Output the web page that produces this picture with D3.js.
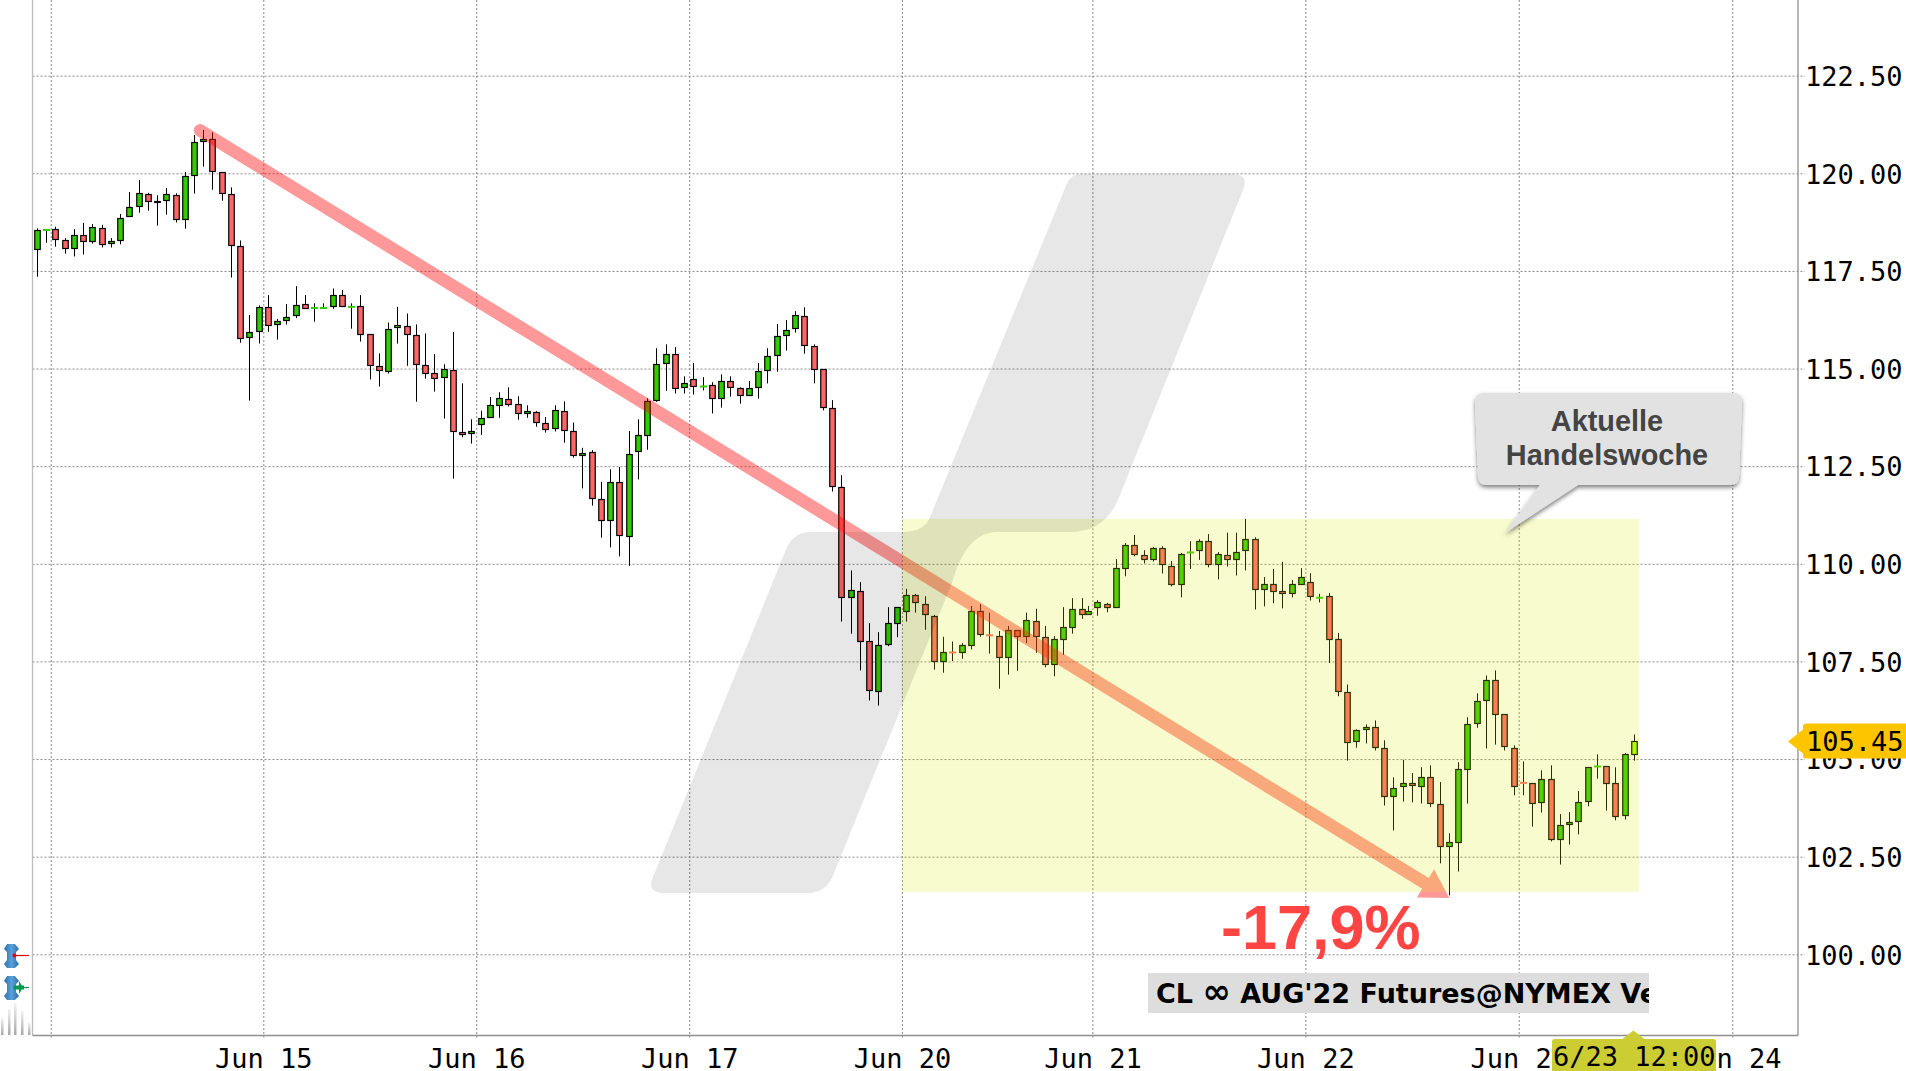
<!DOCTYPE html>
<html>
<head>
<meta charset="utf-8">
<style>
html,body{margin:0;padding:0;background:#fff;overflow:hidden}
svg{display:block}
.tl text{font-family:"DejaVu Sans Mono",monospace;font-size:27px;fill:#000}
</style>
<script src="https://cdn.jsdelivr.net/npm/d3@7"></script>
</head>
<body>
<svg id="c" width="1906" height="1071"></svg>
<script>
const open = [118.05,118.54,118.57,118.28,118.08,118.41,118.26,118.59,118.21,118.28,118.90,119.15,119.46,119.28,119.31,119.44,118.82,119.95,120.82,120.87,120.03,119.46,118.13,115.80,115.95,116.57,116.13,116.24,116.36,116.64,116.54,116.54,116.59,116.87,116.57,116.59,115.88,115.06,114.93,116.06,116.08,115.85,115.08,114.88,114.78,114.96,113.37,113.34,113.57,113.75,114.06,114.21,114.09,113.86,113.88,113.60,113.47,113.91,113.39,112.78,112.86,111.65,111.12,112.09,110.71,112.88,113.29,114.19,115.14,115.37,114.52,114.73,114.53,114.57,114.24,114.68,114.50,114.32,114.52,114.96,115.34,115.85,116.03,116.34,115.57,114.98,113.98,111.96,109.14,109.30,108.00,106.74,107.94,108.46,108.77,109.20,108.97,108.64,107.51,107.74,107.74,107.90,108.79,108.18,108.15,107.61,108.30,108.13,108.53,108.10,107.43,108.05,108.38,108.84,108.69,108.87,108.97,108.87,109.87,110.48,110.22,110.10,110.40,109.94,109.48,110.28,110.35,110.58,109.97,110.22,110.10,110.33,110.61,109.33,109.46,109.28,109.25,109.48,109.53,109.12,109.17,108.05,106.71,105.45,105.76,105.81,105.28,104.05,104.30,104.38,104.30,104.53,103.84,102.77,102.87,104.74,105.92,106.50,107.01,106.14,105.28,104.40,104.38,103.90,104.48,102.95,103.33,103.41,103.92,104.80,104.82,104.38,103.56,105.12];
const high = [118.59,118.57,118.63,118.34,118.57,118.73,118.70,118.68,118.34,118.96,119.52,119.83,119.50,119.44,119.62,119.49,120.03,120.98,121.11,121.05,120.03,119.64,118.28,116.37,116.62,116.88,116.27,116.65,117.11,116.88,116.67,116.67,117.05,117.01,116.67,116.88,115.88,115.39,116.18,116.58,116.41,116.13,115.90,115.37,115.11,115.94,114.62,113.70,113.92,114.27,114.39,114.52,114.29,114.06,113.91,113.76,114.06,114.16,113.62,112.97,112.91,112.10,112.42,112.48,113.40,113.70,114.24,115.52,115.62,115.55,114.80,115.14,114.78,114.65,114.85,114.80,114.52,114.68,115.14,115.52,116.14,116.24,116.47,116.57,115.62,114.98,114.19,112.27,109.83,109.53,108.48,108.25,108.89,108.89,109.36,109.23,109.17,108.69,108.13,108.01,107.97,108.92,108.97,108.75,108.28,108.41,108.30,108.75,108.85,108.41,108.15,108.89,109.12,109.12,108.92,109.07,109.00,110.12,110.53,110.74,110.35,110.43,110.45,110.07,110.28,110.58,110.63,110.76,110.30,110.80,110.80,111.15,110.68,109.66,109.87,110.05,109.58,109.89,109.76,109.23,109.25,108.23,106.91,105.76,105.89,105.99,105.48,104.53,104.98,104.64,104.79,104.84,104.41,103.10,104.92,106.07,106.68,107.14,107.27,106.14,105.35,104.94,104.38,104.71,104.84,103.59,103.64,104.18,104.79,105.12,104.82,104.79,105.15,105.63];
const low = [117.35,118.22,118.12,117.94,117.87,117.92,118.20,118.10,118.10,118.18,118.90,118.99,119.04,118.66,118.94,118.74,118.58,119.48,120.17,119.58,119.30,117.33,115.66,114.18,115.64,115.94,115.74,116.13,116.29,116.54,116.20,116.54,116.53,116.59,116.02,115.69,114.72,114.54,114.87,115.64,115.07,114.15,114.74,114.41,113.72,112.18,113.24,113.08,113.30,113.75,113.74,114.03,113.69,113.74,113.51,113.36,113.39,113.10,112.72,111.93,111.49,110.67,110.42,110.19,109.95,112.16,112.92,114.15,114.43,114.36,114.36,114.33,114.44,113.85,114.00,114.28,114.10,114.32,114.23,114.62,114.92,115.46,115.92,115.38,114.62,113.93,111.85,108.52,108.21,107.27,106.50,106.37,107.89,108.12,108.52,108.75,108.31,107.29,107.21,107.51,107.57,107.81,108.13,107.70,106.80,107.16,107.26,107.97,107.72,107.35,107.12,107.67,108.21,108.59,108.69,108.67,108.76,108.87,109.68,110.19,110.01,110.06,109.75,109.42,109.14,109.87,110.10,109.91,109.60,109.93,109.70,109.83,108.83,108.91,108.99,108.86,109.14,109.48,109.06,109.01,107.46,106.61,104.96,105.29,105.40,105.22,103.81,103.17,103.91,103.89,103.86,103.77,102.33,101.51,102.12,103.86,105.80,105.27,105.37,105.22,104.07,104.07,103.27,103.63,102.89,102.30,102.81,103.07,103.79,104.50,103.68,103.43,103.45,104.96];
const close = [118.54,118.55,118.31,118.08,118.41,118.26,118.62,118.18,118.26,118.85,119.13,119.49,119.28,119.26,119.46,118.82,119.92,120.79,120.87,120.05,119.49,118.16,115.77,115.93,116.57,116.11,116.21,116.31,116.62,116.54,116.55,116.55,116.87,116.59,116.58,115.88,115.08,114.95,116.00,116.11,115.88,115.11,114.88,114.75,114.98,113.39,113.32,113.39,113.73,114.06,114.24,114.09,113.86,113.91,113.63,113.45,113.93,113.42,112.78,112.83,111.68,111.12,112.09,110.73,112.81,113.29,114.16,115.11,115.37,114.50,114.62,114.55,114.54,114.24,114.68,114.52,114.32,114.50,114.93,115.32,115.83,115.98,116.37,115.60,114.98,114.01,111.99,109.14,109.32,108.02,106.76,107.91,108.48,108.87,109.20,109.00,108.69,107.51,107.72,107.73,107.90,108.79,108.18,108.17,107.61,108.30,108.15,108.56,108.13,107.41,108.05,108.36,108.84,108.69,108.77,109.00,108.87,109.87,110.48,110.25,110.12,110.40,109.97,109.48,110.25,110.29,110.58,109.97,110.25,110.10,110.30,110.61,109.35,109.48,109.30,109.23,109.48,109.64,109.15,109.13,108.07,106.74,105.43,105.74,105.81,105.30,104.05,104.25,104.38,104.33,104.53,103.87,102.77,102.87,104.74,105.89,106.48,107.01,106.14,105.33,104.30,104.39,103.87,104.48,102.95,103.31,103.38,103.90,104.79,104.81,104.38,103.54,105.12,105.45];

const priceTicks = [122.5,120,117.5,115,112.5,110,107.5,105,102.5,100];
const dayTicks = [1.45,24.44,47.47,70.5,93.5,114.1,137.13,160.2,183.3];
const dayLabels = ["","Jun 15","Jun 16","Jun 17","Jun 20","Jun 21","Jun 22","Jun 23","Jun 24"];
const lastPrice = 105.45;
const cursorLabel = "6/23 12:00";
const cursorSlot = 172.6;
const trendStart = {slot:17.6, price:121.1};
const trendEnd = {slot:152.7, price:101.44};
const weekBox = {slot0:93.5, slot1:173.25, top:111.15, bottom:101.6};
const changeLabel = "-17,9%";
const noteLines = ["Aktuelle","Handelswoche"];

const W = 1906, H = 1071, L = 32.5, R = 1798, B = 1035.5;
const svg = d3.select("#c");

const x = d3.scaleLinear().domain([0,172.7]).range([37.3,1634.3]);
const y = d3.scaleLinear().domain([120,100]).range([173.3,954.3]);
const slot = i => i <= 113 ? i : i - 0.3;
const px = i => Math.round(x(slot(i)) - 0.5) + 0.5;
const crisp = v => Math.round(v - 0.5) + 0.5;

const defs = svg.append("defs");
defs.append("clipPath").attr("id","titleClip").append("rect").attr("x",1148).attr("y",973).attr("width",501).attr("height",40);
const sh = defs.append("filter").attr("id","shadow").attr("x","-10%").attr("y","-10%").attr("width","120%").attr("height","130%");
sh.append("feDropShadow").attr("dx",0).attr("dy",2.5).attr("stdDeviation",2.2).attr("flood-color","#000").attr("flood-opacity",0.5);

/* grid + axes */
const gy = svg.append("g").attr("class","tl").attr("transform",`translate(${R},0)`)
  .call(d3.axisRight(y).tickValues(priceTicks).tickFormat(d3.format(".2f")).tickSizeInner(7).tickSizeOuter(0).tickPadding(2));
gy.select(".domain").remove();
gy.selectAll("line").attr("x1",-(R-L)).attr("x2",7).attr("stroke","#8a8a8a").attr("stroke-width",1).attr("stroke-dasharray","2 2");
gy.selectAll("text").attr("x",7).attr("dy","0.36em").attr("text-anchor","start");

const gx = svg.append("g").attr("class","tl").attr("transform",`translate(0,${B})`)
  .call(d3.axisBottom(x).tickValues(dayTicks).tickFormat((d,i)=>dayLabels[i]).tickSizeInner(2).tickSizeOuter(0).tickPadding(10));
gx.select(".domain").remove();
gx.selectAll("line").attr("y1",-B).attr("y2",2).attr("stroke","#8a8a8a").attr("stroke-width",1).attr("stroke-dasharray","2 2");
gx.selectAll("text").attr("y",13).attr("dy","0.71em");

svg.append("line").attr("x1",L).attr("x2",L).attr("y1",0).attr("y2",B).attr("stroke","#bdbdbd").attr("stroke-width",1.3);
svg.append("line").attr("x1",R).attr("x2",R).attr("y1",0).attr("y2",B).attr("stroke","#8f8f8f").attr("stroke-width",1.3);
svg.append("line").attr("x1",L).attr("x2",R).attr("y1",B).attr("y2",B).attr("stroke","#8f8f8f").attr("stroke-width",1.3);

/* candles */
const UP="#33cc00", DN="#ff6666", LAST="#aaff00";
const idx = d3.range(open.length);
const gc = svg.append("g");
gc.selectAll("line").data(idx).join("line")
  .attr("x1",px).attr("x2",px).attr("y1",i=>y(high[i])).attr("y2",i=>y(low[i]))
  .attr("stroke","#000").attr("stroke-width",1);
const isDoji = i => Math.abs(open[i]-close[i]) < 0.015;
const col = i => i===open.length-1 ? LAST : (close[i]>=open[i] ? UP : DN);
gc.selectAll("rect.b").data(idx.filter(i=>!isDoji(i))).join("rect").attr("class","b")
  .attr("x",i=>px(i)-2.75).attr("width",5.5)
  .attr("y",i=>crisp(y(Math.max(open[i],close[i]))))
  .attr("height",i=>Math.max(1,crisp(y(Math.min(open[i],close[i])))-crisp(y(Math.max(open[i],close[i])))))
  .attr("fill",col).attr("stroke","#000").attr("stroke-width",1.2);
gc.selectAll("rect.d").data(idx.filter(isDoji)).join("rect").attr("class","d")
  .attr("x",i=>px(i)-3.5).attr("width",7)
  .attr("y",i=>y(close[i])-1).attr("height",2)
  .attr("fill",col);

/* trend arrow: one group at constant opacity */
(function(){
  const a=[x(trendStart.slot),y(trendStart.price)], b=[x(trendEnd.slot),y(trendEnd.price)];
  const ang=Math.atan2(b[1]-a[1],b[0]-a[0]);
  const ux=Math.cos(ang), uy=Math.sin(ang);
  const g=svg.append("g").attr("opacity",0.4);
  const neck=[b[0]-ux*28,b[1]-uy*28];
  g.append("path").attr("d",d3.line()([a,neck])).attr("stroke","#f00").attr("stroke-width",12.5).attr("stroke-linecap","round").attr("fill","none");
  const hw=16.5;
  g.append("path").attr("fill","#f00")
    .attr("d",d3.line()([b,[neck[0]-uy*hw,neck[1]+ux*hw],[neck[0]+uy*hw,neck[1]-ux*hw]])+"Z");
})();

/* current week box */
svg.append("rect").attr("x",x(weekBox.slot0)).attr("y",y(weekBox.top))
  .attr("width",x(weekBox.slot1)-x(weekBox.slot0)).attr("height",y(weekBox.bottom)-y(weekBox.top))
  .attr("fill","#dceb05").attr("fill-opacity",0.2);

/* watermark */
svg.append("path").attr("fill","#000").attr("fill-opacity",0.095)
  .attr("d","M1080,174 L1232,174 Q1250,174 1243,190 L1118,500 Q1104,532 1070,532 L997,532 Q966,532 952,583 L832,878 Q824,893 808,893 L665,893 Q646,893 653,877 L787,547 Q794,532 812,532 L903,532 Q924,532 930,517 L1065,188 Q1070,174 1080,174 Z");

/* note bubble */
svg.append("path").attr("fill","#e2e2e2").attr("filter","url(#shadow)")
  .attr("d","M1484,393 L1733,393 Q1742,393 1742,402 L1739,476 Q1739,485 1730,485 L1578,485 L1505,533 L1540,485 L1487,485 Q1478,485 1478,476 L1475,402 Q1475,393 1484,393 Z");
svg.append("g").selectAll("text").data(noteLines).join("text")
  .attr("x",1607).attr("y",(d,i)=>431+i*34).attr("text-anchor","middle")
  .attr("font-family","'Liberation Sans',Arial,sans-serif").attr("font-weight","bold").attr("font-size",28.9).attr("fill","#444")
  .text(d=>d);

/* change label */
svg.append("text").attr("x",1221).attr("y",949).attr("font-family","'Liberation Sans',Arial,sans-serif")
  .attr("font-weight","bold").attr("font-size",63).attr("fill","#ff4444").text(changeLabel);

/* title box */
svg.append("rect").attr("x",1148).attr("y",973).attr("width",501).attr("height",40).attr("fill","#dddddd");
const tt = svg.append("text").attr("x",1156).attr("y",1003).attr("clip-path","url(#titleClip)")
  .attr("font-family","'DejaVu Sans',sans-serif").attr("font-weight","bold").attr("font-size",27).attr("fill","#000");
tt.append("tspan").text("CL ");
tt.append("tspan").attr("font-size",34).text("\u221E");
tt.append("tspan").text(" AUG'22 Futures@NYMEX Ve");

/* last price tag */
const ly=y(lastPrice);
svg.append("path").attr("fill","#fdc500")
  .attr("d",`M1788,${ly} L1803,${ly-12} L1803,${ly-15} Q1803,${ly-18} 1806,${ly-18} L1906,${ly-18} L1906,${ly+17} L1806,${ly+17} Q1803,${ly+17} 1803,${ly+14} L1803,${ly+12} Z`);
svg.append("text").attr("x",1806).attr("y",ly+10).attr("font-family","'DejaVu Sans Mono',monospace").attr("font-size",27).attr("fill","#000").text(d3.format(".2f")(lastPrice));

/* time cursor tag */
const cx=x(cursorSlot);
svg.append("path").attr("fill","#cccc33")
  .attr("d",`M${cx},1030.5 L${cx+11},1039 L1713,1039 Q1716,1039 1716,1042 L1716,1071 L1552,1071 L1552,1042 Q1552,1039 1555,1039 L${cx-11},1039 Z`);
svg.append("text").attr("x",1553).attr("y",1066).attr("font-family","'DejaVu Sans Mono',monospace").attr("font-size",27).attr("fill","#000").text(cursorLabel);

/* small order markers on the left */
const markerY=[956,988];
const mk=svg.append("g");
markerY.forEach((my,i)=>{
  const grad=defs.append("linearGradient").attr("id","mg"+i);
  grad.append("stop").attr("offset","0").attr("stop-color","#2a6fae");
  grad.append("stop").attr("offset","0.5").attr("stop-color","#5aa0d8");
  grad.append("stop").attr("offset","1").attr("stop-color","#2a6fae");
  mk.append("path").attr("fill",`url(#mg${i})`)
    .attr("d",`M7,${my-12} L15,${my-12} L19,${my-7} L16,${my-4} L16,${my+4} L19,${my+8} L15,${my+12} L7,${my+12} L4,${my+8} L7,${my+4} L7,${my-4} L4,${my-7} Z`);
  mk.append("line").attr("x1",13).attr("x2",29).attr("y1",my-.5).attr("y2",my-.5).attr("stroke",i?"#00994d":"#e60000").attr("stroke-width",1.2);
  if(i) mk.append("path").attr("fill","#00994d").attr("d",`M14,${my-2.5} L24,${my-2.5} L24,${my+1.5} L14,${my+1.5} Z M19,${my-7} L23,${my-.5} L19,${my+6} Z`);
  else mk.append("circle").attr("cx",14.5).attr("cy",my-.5).attr("r",2).attr("fill","#e60000");
});
/* faded bars under the markers */
const fadeBars=[[1,17],[8,26],[14,32],[21,24],[28,12]];
defs.append("linearGradient").attr("id","fb").attr("x1",0).attr("x2",0).attr("y1",0).attr("y2",1)
  .call(g=>{g.append("stop").attr("offset","0").attr("stop-color","#f2f2f2");g.append("stop").attr("offset","1").attr("stop-color","#a8a8a8");});
svg.append("g").selectAll("rect").data(fadeBars).join("rect")
  .attr("x",d=>d[0]).attr("width",2.5).attr("y",d=>1035-d[1]).attr("height",d=>d[1]).attr("fill","url(#fb)");
</script>
</body>
</html>
